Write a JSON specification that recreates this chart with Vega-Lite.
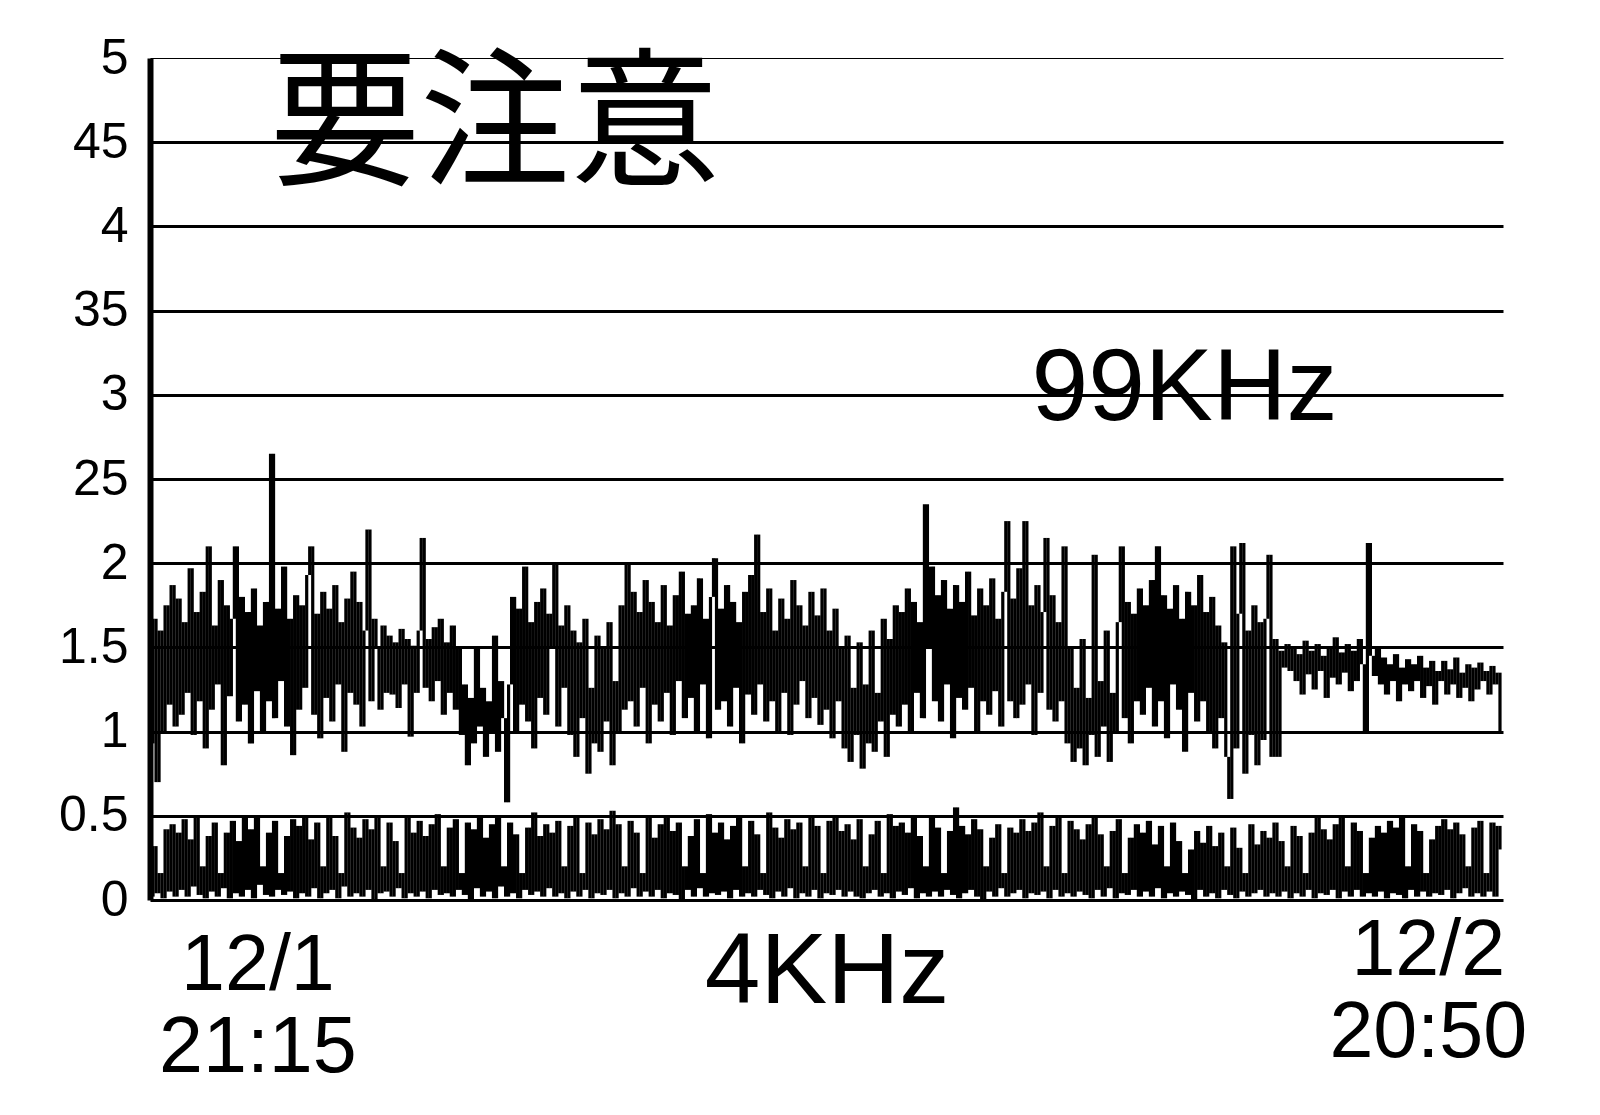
{
"$schema": "https://vega.github.io/schema/vega-lite/v6.json",
"width": 1353, "height": 842,
"autosize": "none",
"padding": {"left": 150, "top": 58, "right": 97, "bottom": 215},
"background": "white",
"config": {"view": {"stroke": null}},
"layer": [
{
"data": {"values": [
{"t":0,"a":1.50,"b":0.28},{"t":1,"a":0.93,"b":0.02},{"t":2,"a":1.67,"b":0.32},{"t":3,"a":0.70,"b":0.04},{"t":4,"a":1.60,"b":0.16},{"t":5,"a":1.00,"b":0.01},{"t":6,"a":1.75,"b":0.42},{"t":7,"a":1.16,"b":0.05},{"t":8,"a":1.87,"b":0.45},{"t":9,"a":1.03,"b":0.02},
{"t":10,"a":1.79,"b":0.40},{"t":11,"a":1.10,"b":0.06},{"t":12,"a":1.65,"b":0.48},{"t":13,"a":1.23,"b":0.02},{"t":14,"a":1.97,"b":0.36},{"t":15,"a":0.98,"b":0.08},{"t":16,"a":1.71,"b":0.50},{"t":17,"a":1.18,"b":0.03},{"t":18,"a":1.83,"b":0.20},{"t":19,"a":0.90,"b":0.01},
{"t":20,"a":2.10,"b":0.38},{"t":21,"a":1.13,"b":0.05},{"t":22,"a":1.63,"b":0.46},{"t":23,"a":1.28,"b":0.02},{"t":24,"a":1.90,"b":0.16},{"t":25,"a":0.80,"b":0.07},{"t":26,"a":1.75,"b":0.40},{"t":27,"a":1.21,"b":0.01},{"t":28,"a":1.67,"b":0.47},{"t":29,"a":2.10,"b":0.04},
{"t":30,"a":1.06,"b":0.35},{"t":31,"a":1.80,"b":0.02},{"t":32,"a":1.16,"b":0.49},{"t":33,"a":1.71,"b":0.06},{"t":34,"a":0.93,"b":0.42},{"t":35,"a":1.85,"b":0.01},{"t":36,"a":1.24,"b":0.50},{"t":37,"a":1.63,"b":0.09},{"t":38,"a":1.00,"b":0.20},{"t":39,"a":1.77,"b":0.03},
{"t":40,"a":1.18,"b":0.40},{"t":41,"a":2.65,"b":0.02},{"t":42,"a":1.08,"b":0.47},{"t":43,"a":1.73,"b":0.06},{"t":44,"a":1.30,"b":0.16},{"t":45,"a":1.98,"b":0.03},{"t":46,"a":1.03,"b":0.38},{"t":47,"a":1.67,"b":0.05},{"t":48,"a":0.86,"b":0.48},{"t":49,"a":1.81,"b":0.01},
{"t":50,"a":1.13,"b":0.44},{"t":51,"a":1.75,"b":0.04},{"t":52,"a":1.26,"b":0.50},{"t":53,"a":1.93,"b":0.02},{"t":54,"a":2.10,"b":0.36},{"t":55,"a":1.10,"b":0.07},{"t":56,"a":1.70,"b":0.46},{"t":57,"a":0.96,"b":0.01},{"t":58,"a":1.83,"b":0.20},{"t":59,"a":1.20,"b":0.04},
{"t":60,"a":1.73,"b":0.49},{"t":61,"a":1.06,"b":0.06},{"t":62,"a":1.87,"b":0.38},{"t":63,"a":1.28,"b":0.01},{"t":64,"a":1.65,"b":0.16},{"t":65,"a":0.88,"b":0.08},{"t":66,"a":1.79,"b":0.52},{"t":67,"a":1.23,"b":0.02},{"t":68,"a":1.95,"b":0.43},{"t":69,"a":1.16,"b":0.04},
{"t":70,"a":1.77,"b":0.37},{"t":71,"a":1.03,"b":0.02},{"t":72,"a":1.60,"b":0.48},{"t":73,"a":2.20,"b":0.06},{"t":74,"a":1.18,"b":0.42},{"t":75,"a":1.67,"b":0.00},{"t":76,"a":1.50,"b":0.50},{"t":77,"a":1.13,"b":0.04},{"t":78,"a":1.63,"b":0.20},{"t":79,"a":1.23,"b":0.05},
{"t":80,"a":1.57,"b":0.46},{"t":81,"a":1.22,"b":0.02},{"t":82,"a":1.53,"b":0.35},{"t":83,"a":1.14,"b":0.07},{"t":84,"a":1.61,"b":0.16},{"t":85,"a":1.28,"b":0.01},{"t":86,"a":1.55,"b":0.49},{"t":87,"a":0.97,"b":0.04},{"t":88,"a":1.51,"b":0.40},{"t":89,"a":1.23,"b":0.02},
{"t":90,"a":1.60,"b":0.47},{"t":91,"a":2.15,"b":0.05},{"t":92,"a":1.26,"b":0.38},{"t":93,"a":1.55,"b":0.01},{"t":94,"a":1.18,"b":0.45},{"t":95,"a":1.62,"b":0.06},{"t":96,"a":1.30,"b":0.51},{"t":97,"a":1.67,"b":0.03},{"t":98,"a":1.10,"b":0.20},{"t":99,"a":1.53,"b":0.04},
{"t":100,"a":1.23,"b":0.43},{"t":101,"a":1.63,"b":0.02},{"t":102,"a":1.13,"b":0.48},{"t":103,"a":1.50,"b":0.06},{"t":104,"a":0.98,"b":0.16},{"t":105,"a":1.28,"b":0.03},{"t":106,"a":0.80,"b":0.46},{"t":107,"a":1.20,"b":0.00},{"t":108,"a":0.93,"b":0.42},{"t":109,"a":1.50,"b":0.07},
{"t":110,"a":1.03,"b":0.50},{"t":111,"a":1.26,"b":0.02},{"t":112,"a":0.85,"b":0.37},{"t":113,"a":1.18,"b":0.05},{"t":114,"a":1.00,"b":0.45},{"t":115,"a":1.57,"b":0.01},{"t":116,"a":0.88,"b":0.49},{"t":117,"a":1.30,"b":0.08},{"t":118,"a":1.08,"b":0.20},{"t":119,"a":0.58,"b":0.02},
{"t":120,"a":1.28,"b":0.46},{"t":121,"a":1.80,"b":0.04},{"t":122,"a":1.00,"b":0.39},{"t":123,"a":1.73,"b":0.01},{"t":124,"a":1.16,"b":0.16},{"t":125,"a":1.98,"b":0.06},{"t":126,"a":1.06,"b":0.43},{"t":127,"a":1.65,"b":0.03},{"t":128,"a":0.90,"b":0.52},{"t":129,"a":1.77,"b":0.05},
{"t":130,"a":1.20,"b":0.38},{"t":131,"a":1.85,"b":0.02},{"t":132,"a":1.10,"b":0.45},{"t":133,"a":1.70,"b":0.07},{"t":134,"a":1.50,"b":0.40},{"t":135,"a":2.00,"b":0.02},{"t":136,"a":1.03,"b":0.47},{"t":137,"a":1.63,"b":0.04},{"t":138,"a":1.26,"b":0.20},{"t":139,"a":1.75,"b":0.01},
{"t":140,"a":0.98,"b":0.44},{"t":141,"a":1.60,"b":0.05},{"t":142,"a":0.85,"b":0.50},{"t":143,"a":1.53,"b":0.02},{"t":144,"a":1.08,"b":0.16},{"t":145,"a":1.67,"b":0.06},{"t":146,"a":0.75,"b":0.46},{"t":147,"a":1.26,"b":0.01},{"t":148,"a":0.93,"b":0.39},{"t":149,"a":1.57,"b":0.04},
{"t":150,"a":0.88,"b":0.48},{"t":151,"a":1.50,"b":0.03},{"t":152,"a":1.06,"b":0.42},{"t":153,"a":1.65,"b":0.06},{"t":154,"a":0.80,"b":0.53},{"t":155,"a":1.30,"b":0.01},{"t":156,"a":1.00,"b":0.45},{"t":157,"a":1.75,"b":0.04},{"t":158,"a":1.13,"b":0.20},{"t":159,"a":2.00,"b":0.02},
{"t":160,"a":1.18,"b":0.47},{"t":161,"a":1.83,"b":0.07},{"t":162,"a":1.03,"b":0.40},{"t":163,"a":1.71,"b":0.02},{"t":164,"a":1.26,"b":0.16},{"t":165,"a":1.90,"b":0.05},{"t":166,"a":0.93,"b":0.50},{"t":167,"a":1.77,"b":0.02},{"t":168,"a":1.16,"b":0.37},{"t":169,"a":1.65,"b":0.06},
{"t":170,"a":1.06,"b":0.45},{"t":171,"a":1.87,"b":0.01},{"t":172,"a":1.23,"b":0.49},{"t":173,"a":1.63,"b":0.04},{"t":174,"a":0.98,"b":0.41},{"t":175,"a":1.81,"b":0.03},{"t":176,"a":1.30,"b":0.46},{"t":177,"a":1.95,"b":0.00},{"t":178,"a":1.08,"b":0.20},{"t":179,"a":1.70,"b":0.06},
{"t":180,"a":1.20,"b":0.38},{"t":181,"a":1.75,"b":0.02},{"t":182,"a":1.00,"b":0.48},{"t":183,"a":1.91,"b":0.07},{"t":184,"a":1.28,"b":0.16},{"t":185,"a":1.67,"b":0.02},{"t":186,"a":0.96,"b":0.51},{"t":187,"a":1.80,"b":0.04},{"t":188,"a":2.03,"b":0.40},{"t":189,"a":1.13,"b":0.03},
{"t":190,"a":1.73,"b":0.46},{"t":191,"a":1.18,"b":0.05},{"t":192,"a":1.87,"b":0.36},{"t":193,"a":1.03,"b":0.01},{"t":194,"a":1.77,"b":0.44},{"t":195,"a":1.26,"b":0.06},{"t":196,"a":1.65,"b":0.49},{"t":197,"a":0.93,"b":0.02},{"t":198,"a":1.83,"b":0.20},{"t":199,"a":1.22,"b":0.04},
{"t":200,"a":1.93,"b":0.47},{"t":201,"a":1.10,"b":0.02},{"t":202,"a":2.17,"b":0.39},{"t":203,"a":1.28,"b":0.06},{"t":204,"a":1.71,"b":0.16},{"t":205,"a":1.06,"b":0.03},{"t":206,"a":1.85,"b":0.52},{"t":207,"a":1.18,"b":0.01},{"t":208,"a":1.60,"b":0.43},{"t":209,"a":1.00,"b":0.05},
{"t":210,"a":1.79,"b":0.37},{"t":211,"a":1.23,"b":0.02},{"t":212,"a":1.67,"b":0.48},{"t":213,"a":0.98,"b":0.07},{"t":214,"a":1.90,"b":0.42},{"t":215,"a":1.16,"b":0.01},{"t":216,"a":1.75,"b":0.46},{"t":217,"a":1.30,"b":0.04},{"t":218,"a":1.63,"b":0.20},{"t":219,"a":1.08,"b":0.02},
{"t":220,"a":1.83,"b":0.49},{"t":221,"a":1.20,"b":0.06},{"t":222,"a":1.69,"b":0.44},{"t":223,"a":1.04,"b":0.01},{"t":224,"a":1.85,"b":0.16},{"t":225,"a":1.13,"b":0.04},{"t":226,"a":1.60,"b":0.47},{"t":227,"a":0.96,"b":0.03},{"t":228,"a":1.73,"b":0.50},{"t":229,"a":1.18,"b":0.06},
{"t":230,"a":1.50,"b":0.41},{"t":231,"a":0.90,"b":0.02},{"t":232,"a":1.57,"b":0.45},{"t":233,"a":0.82,"b":0.05},{"t":234,"a":1.26,"b":0.36},{"t":235,"a":0.98,"b":0.02},{"t":236,"a":1.53,"b":0.48},{"t":237,"a":0.78,"b":0.01},{"t":238,"a":1.28,"b":0.20},{"t":239,"a":0.93,"b":0.04},
{"t":240,"a":1.60,"b":0.39},{"t":241,"a":0.88,"b":0.06},{"t":242,"a":1.23,"b":0.47},{"t":243,"a":1.06,"b":0.02},{"t":244,"a":1.67,"b":0.16},{"t":245,"a":0.85,"b":0.04},{"t":246,"a":1.55,"b":0.51},{"t":247,"a":1.10,"b":0.01},{"t":248,"a":1.75,"b":0.44},{"t":249,"a":1.03,"b":0.05},
{"t":250,"a":1.71,"b":0.46},{"t":251,"a":1.16,"b":0.03},{"t":252,"a":1.85,"b":0.40},{"t":253,"a":1.00,"b":0.07},{"t":254,"a":1.77,"b":0.49},{"t":255,"a":1.23,"b":0.01},{"t":256,"a":1.65,"b":0.38},{"t":257,"a":1.08,"b":0.04},{"t":258,"a":2.35,"b":0.20},{"t":259,"a":1.50,"b":0.02},
{"t":260,"a":1.98,"b":0.50},{"t":261,"a":1.18,"b":0.05},{"t":262,"a":1.81,"b":0.43},{"t":263,"a":1.06,"b":0.02},{"t":264,"a":1.90,"b":0.16},{"t":265,"a":1.28,"b":0.06},{"t":266,"a":1.73,"b":0.41},{"t":267,"a":0.96,"b":0.03},{"t":268,"a":1.87,"b":0.55},{"t":269,"a":1.20,"b":0.01},
{"t":270,"a":1.77,"b":0.44},{"t":271,"a":1.13,"b":0.04},{"t":272,"a":1.95,"b":0.39},{"t":273,"a":1.26,"b":0.06},{"t":274,"a":1.69,"b":0.48},{"t":275,"a":1.00,"b":0.02},{"t":276,"a":1.85,"b":0.42},{"t":277,"a":1.18,"b":0.00},{"t":278,"a":1.75,"b":0.20},{"t":279,"a":1.10,"b":0.05},
{"t":280,"a":1.91,"b":0.37},{"t":281,"a":1.24,"b":0.02},{"t":282,"a":1.67,"b":0.45},{"t":283,"a":1.03,"b":0.07},{"t":284,"a":1.83,"b":0.16},{"t":285,"a":2.25,"b":0.02},{"t":286,"a":1.18,"b":0.43},{"t":287,"a":1.79,"b":0.04},{"t":288,"a":1.08,"b":0.40},{"t":289,"a":1.97,"b":0.06},
{"t":290,"a":1.16,"b":0.48},{"t":291,"a":2.25,"b":0.01},{"t":292,"a":1.28,"b":0.41},{"t":293,"a":1.75,"b":0.04},{"t":294,"a":0.98,"b":0.46},{"t":295,"a":1.87,"b":0.03},{"t":296,"a":1.23,"b":0.52},{"t":297,"a":1.71,"b":0.05},{"t":298,"a":2.15,"b":0.20},{"t":299,"a":1.13,"b":0.01},
{"t":300,"a":1.81,"b":0.44},{"t":301,"a":1.06,"b":0.06},{"t":302,"a":1.65,"b":0.49},{"t":303,"a":1.18,"b":0.02},{"t":304,"a":2.10,"b":0.16},{"t":305,"a":0.93,"b":0.04},{"t":306,"a":1.50,"b":0.47},{"t":307,"a":0.82,"b":0.02},{"t":308,"a":1.26,"b":0.42},{"t":309,"a":0.90,"b":0.05},
{"t":310,"a":1.55,"b":0.36},{"t":311,"a":0.80,"b":0.03},{"t":312,"a":1.20,"b":0.45},{"t":313,"a":0.98,"b":0.01},{"t":314,"a":2.05,"b":0.50},{"t":315,"a":0.85,"b":0.06},{"t":316,"a":1.30,"b":0.39},{"t":317,"a":1.03,"b":0.02},{"t":318,"a":1.60,"b":0.20},{"t":319,"a":0.82,"b":0.07},
{"t":320,"a":1.23,"b":0.41},{"t":321,"a":1.00,"b":0.01},{"t":322,"a":1.65,"b":0.48},{"t":323,"a":2.10,"b":0.04},{"t":324,"a":1.08,"b":0.16},{"t":325,"a":1.77,"b":0.03},{"t":326,"a":0.93,"b":0.37},{"t":327,"a":1.70,"b":0.06},{"t":328,"a":1.18,"b":0.45},{"t":329,"a":1.85,"b":0.02},
{"t":330,"a":1.10,"b":0.40},{"t":331,"a":1.75,"b":0.05},{"t":332,"a":1.26,"b":0.47},{"t":333,"a":1.90,"b":0.02},{"t":334,"a":1.03,"b":0.33},{"t":335,"a":2.10,"b":0.07},{"t":336,"a":1.18,"b":0.44},{"t":337,"a":1.81,"b":0.01},{"t":338,"a":0.96,"b":0.20},{"t":339,"a":1.73,"b":0.04},
{"t":340,"a":1.28,"b":0.46},{"t":341,"a":1.87,"b":0.02},{"t":342,"a":1.13,"b":0.35},{"t":343,"a":1.67,"b":0.05},{"t":344,"a":0.88,"b":0.16},{"t":345,"a":1.83,"b":0.03},{"t":346,"a":1.23,"b":0.30},{"t":347,"a":1.75,"b":0.00},{"t":348,"a":1.06,"b":0.41},{"t":349,"a":1.93,"b":0.06},
{"t":350,"a":1.18,"b":0.34},{"t":351,"a":1.71,"b":0.02},{"t":352,"a":1.00,"b":0.44},{"t":353,"a":1.80,"b":0.04},{"t":354,"a":0.90,"b":0.32},{"t":355,"a":1.63,"b":0.01},{"t":356,"a":1.08,"b":0.40},{"t":357,"a":1.53,"b":0.06},{"t":358,"a":0.85,"b":0.20},{"t":359,"a":0.60,"b":0.03},
{"t":360,"a":2.10,"b":0.43},{"t":361,"a":0.90,"b":0.01},{"t":362,"a":1.70,"b":0.31},{"t":363,"a":2.12,"b":0.05},{"t":364,"a":0.75,"b":0.16},{"t":365,"a":1.60,"b":0.02},{"t":366,"a":0.98,"b":0.45},{"t":367,"a":1.75,"b":0.04},{"t":368,"a":0.80,"b":0.33},{"t":369,"a":1.65,"b":0.06},
{"t":370,"a":0.95,"b":0.41},{"t":371,"a":1.67,"b":0.02},{"t":372,"a":2.05,"b":0.37},{"t":373,"a":0.85,"b":0.04},{"t":374,"a":1.55,"b":0.46},{"t":375,"a":0.85,"b":0.02},{"t":376,"a":1.48,"b":0.35},{"t":377,"a":1.38,"b":0.05},{"t":378,"a":1.52,"b":0.20},{"t":379,"a":1.36,"b":0.01},
{"t":380,"a":1.50,"b":0.44},{"t":381,"a":1.30,"b":0.04},{"t":382,"a":1.46,"b":0.38},{"t":383,"a":1.22,"b":0.02},{"t":384,"a":1.54,"b":0.16},{"t":385,"a":1.34,"b":0.06},{"t":386,"a":1.48,"b":0.40},{"t":387,"a":1.25,"b":0.01},{"t":388,"a":1.52,"b":0.49},{"t":389,"a":1.36,"b":0.04},
{"t":390,"a":1.45,"b":0.42},{"t":391,"a":1.20,"b":0.03},{"t":392,"a":1.50,"b":0.36},{"t":393,"a":1.32,"b":0.06},{"t":394,"a":1.56,"b":0.45},{"t":395,"a":1.28,"b":0.01},{"t":396,"a":1.47,"b":0.50},{"t":397,"a":1.35,"b":0.05},{"t":398,"a":1.52,"b":0.20},{"t":399,"a":1.24,"b":0.02},
{"t":400,"a":1.48,"b":0.46},{"t":401,"a":1.30,"b":0.06},{"t":402,"a":1.55,"b":0.41},{"t":403,"a":1.40,"b":0.02},{"t":404,"a":1.00,"b":0.16},{"t":405,"a":2.12,"b":0.04},{"t":406,"a":1.45,"b":0.37},{"t":407,"a":1.33,"b":0.02},{"t":408,"a":1.50,"b":0.44},{"t":409,"a":1.28,"b":0.05},
{"t":410,"a":1.44,"b":0.40},{"t":411,"a":1.22,"b":0.01},{"t":412,"a":1.40,"b":0.47},{"t":413,"a":1.30,"b":0.04},{"t":414,"a":1.46,"b":0.43},{"t":415,"a":1.18,"b":0.03},{"t":416,"a":1.38,"b":0.49},{"t":417,"a":1.28,"b":0.01},{"t":418,"a":1.43,"b":0.20},{"t":419,"a":1.24,"b":0.06},
{"t":420,"a":1.40,"b":0.45},{"t":421,"a":1.30,"b":0.02},{"t":422,"a":1.45,"b":0.41},{"t":423,"a":1.20,"b":0.05},{"t":424,"a":1.38,"b":0.16},{"t":425,"a":1.27,"b":0.02},{"t":426,"a":1.42,"b":0.36},{"t":427,"a":1.16,"b":0.04},{"t":428,"a":1.36,"b":0.44},{"t":429,"a":1.30,"b":0.03},
{"t":430,"a":1.42,"b":0.48},{"t":431,"a":1.22,"b":0.06},{"t":432,"a":1.37,"b":0.42},{"t":433,"a":1.28,"b":0.01},{"t":434,"a":1.44,"b":0.46},{"t":435,"a":1.20,"b":0.04},{"t":436,"a":1.35,"b":0.39},{"t":437,"a":1.26,"b":0.07},{"t":438,"a":1.40,"b":0.20},{"t":439,"a":1.18,"b":0.02},
{"t":440,"a":1.38,"b":0.43},{"t":441,"a":1.25,"b":0.04},{"t":442,"a":1.41,"b":0.47},{"t":443,"a":1.30,"b":0.02},{"t":444,"a":1.36,"b":0.16},{"t":445,"a":1.22,"b":0.05},{"t":446,"a":1.39,"b":0.46},{"t":447,"a":1.28,"b":0.02},{"t":448,"a":1.35,"b":0.44},{"t":449,"a":1.00,"b":0.30}
]},
"transform": [
{"fold": ["a", "b"], "as": ["s", "v"]},
{"window": [{"op": "min", "field": "v", "as": "lo"}, {"op": "max", "field": "v", "as": "hi"}], "frame": [0, 1], "groupby": ["s"], "sort": [{"field": "t", "order": "ascending"}]}
],
"mark": {"type": "rule", "color": "black", "strokeWidth": 3.2},
"encoding": {
"x": {"field": "t", "type": "quantitative", "scale": {"domain": [0, 449], "nice": false, "zero": false}, "axis": null},
"y": {"field": "lo", "type": "quantitative", "scale": {"domain": [0, 5], "nice": false},
"axis": {"values": [0, 0.5, 1, 1.5, 2, 2.5, 3, 3.5, 4, 4.5, 5], "format": "~g",
"labelExpr": "datum.value == 4.5 ? '45' : datum.value == 3.5 ? '35' : datum.value == 2.5 ? '25' : datum.label",
"title": null, "ticks": false, "domain": true, "domainColor": "black", "domainWidth": 6,
"grid": true, "gridColor": "black", "gridOpacity": 1,
"gridWidth": {"condition": {"test": "datum.value == 5", "value": 1}, "value": 3},
"labelFont": "Liberation Sans", "labelFontSize": 50, "labelColor": "black", "labelPadding": 22,
"labelOverlap": false, "labelFlush": false}},
"y2": {"field": "hi"},
"detail": {"field": "s", "type": "nominal"}
}
},
{
"data": {"values": [{"label": "要注意"}]},
"mark": {"type": "text", "font": "Noto Sans CJK JP", "fontSize": 150, "align": "center", "baseline": "alphabetic", "color": "black"},
"encoding": {"x": {"datum": 114.5, "type": "quantitative", "axis": null}, "y": {"datum": 4.31, "type": "quantitative"}, "text": {"field": "label"}}
},
{
"data": {"values": [{"label": "99KHz"}]},
"mark": {"type": "text", "font": "Liberation Sans", "fontSize": 102, "align": "center", "baseline": "alphabetic", "color": "black"},
"encoding": {"x": {"datum": 343.3, "type": "quantitative", "axis": null}, "y": {"datum": 2.85, "type": "quantitative"}, "text": {"field": "label"}}
},
{
"data": {"values": [{"label": "4KHz"}]},
"mark": {"type": "text", "font": "Liberation Sans", "fontSize": 100, "align": "center", "baseline": "alphabetic", "color": "black"},
"encoding": {"x": {"datum": 224.7, "type": "quantitative", "axis": null}, "y": {"datum": -0.612, "type": "quantitative"}, "text": {"field": "label"}}
},
{
"data": {"values": [{"label": "12/1\n21:15"}]},
"mark": {"type": "text", "font": "Liberation Sans", "fontSize": 79, "align": "center", "baseline": "alphabetic", "color": "black", "lineBreak": "\n", "lineHeight": 82},
"encoding": {"x": {"datum": 35.8, "type": "quantitative", "axis": null}, "y": {"datum": -0.534, "type": "quantitative"}, "text": {"field": "label"}}
},
{
"data": {"values": [{"label": "12/2\n20:50"}]},
"mark": {"type": "text", "font": "Liberation Sans", "fontSize": 79, "align": "center", "baseline": "alphabetic", "color": "black", "lineBreak": "\n", "lineHeight": 82},
"encoding": {"x": {"datum": 424.2, "type": "quantitative", "axis": null}, "y": {"datum": -0.445, "type": "quantitative"}, "text": {"field": "label"}}
}
]
}
